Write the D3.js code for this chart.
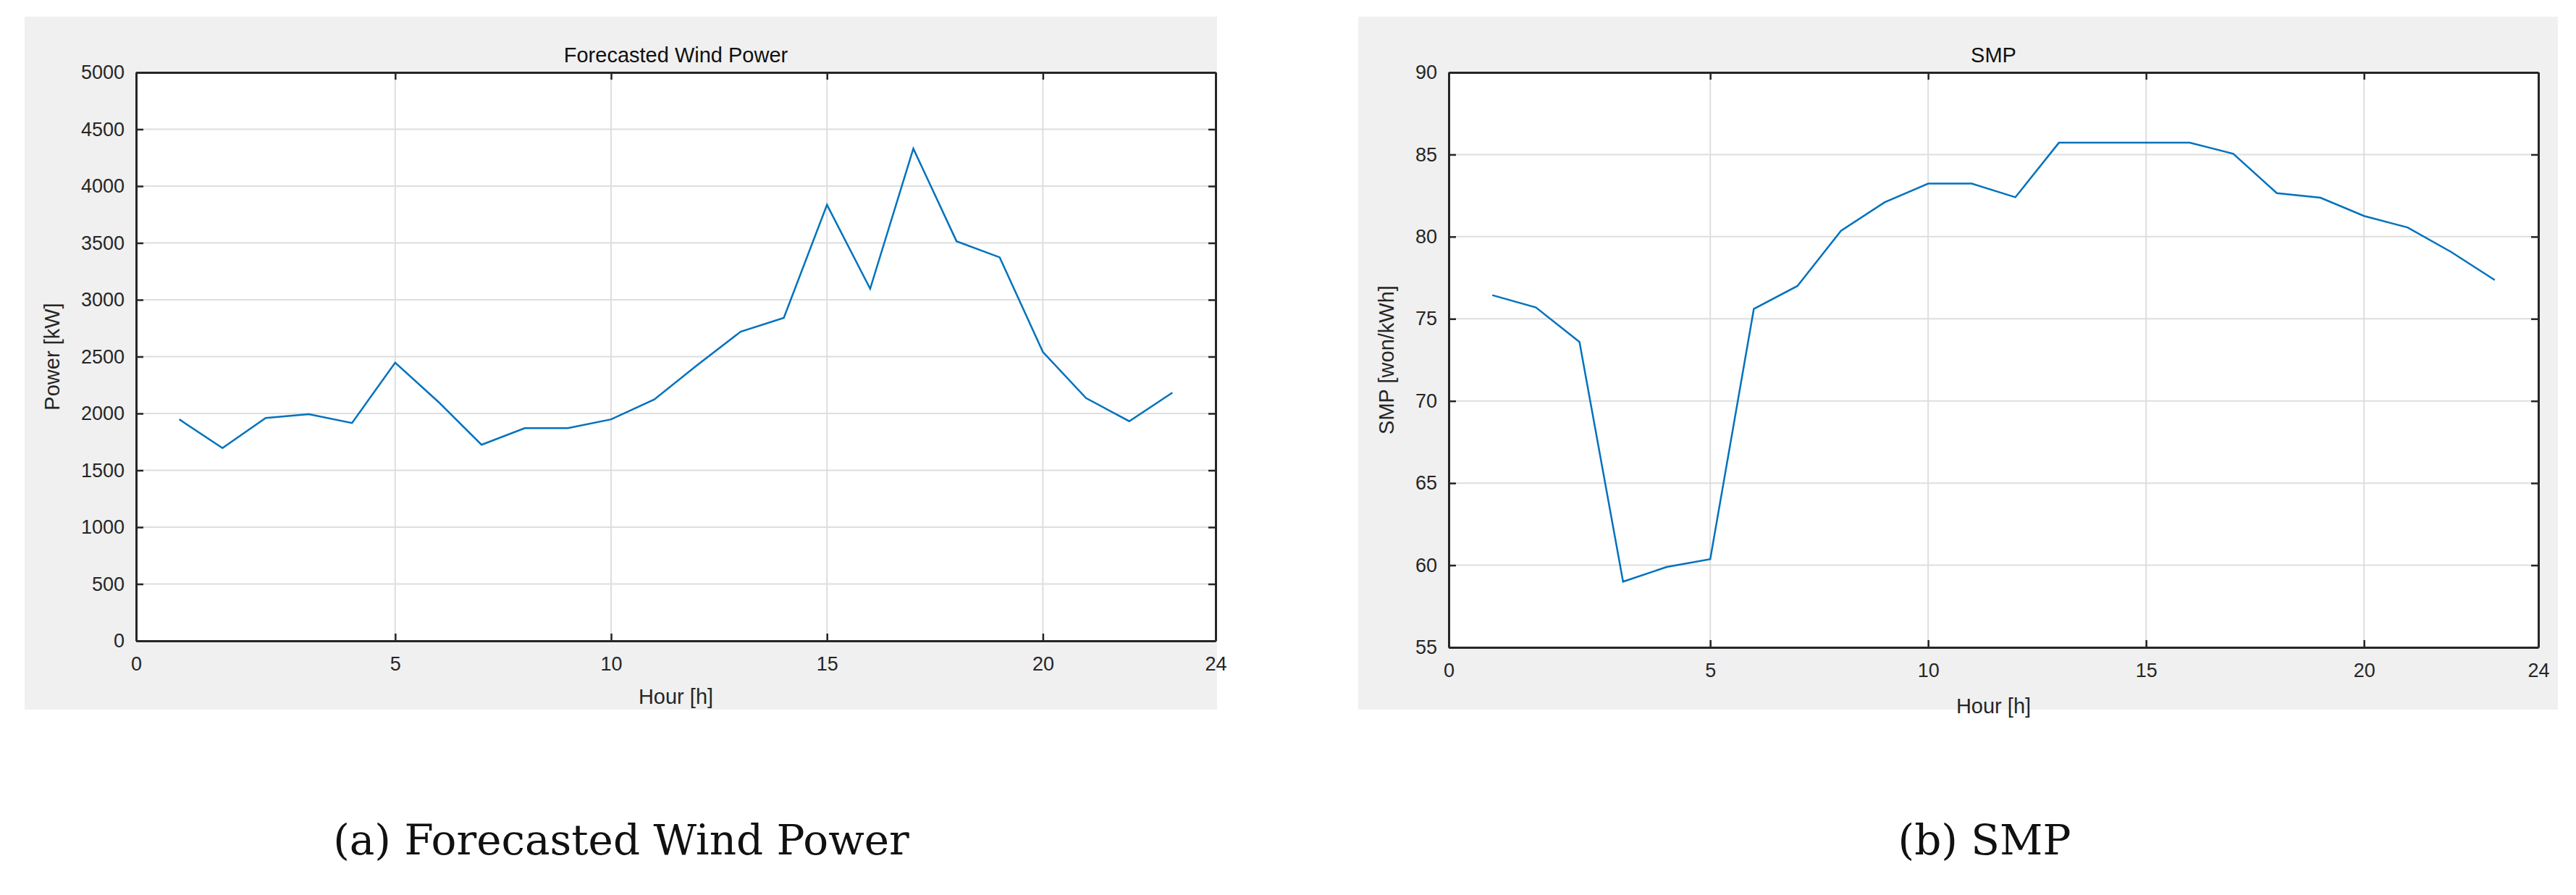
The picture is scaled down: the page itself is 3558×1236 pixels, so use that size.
<!DOCTYPE html>
<html>
<head>
<meta charset="utf-8">
<script src="https://cdn.jsdelivr.net/npm/d3@7"></script>
<style>
  body { margin: 0; background: #fff; }
</style>
</head>
<body>
<svg id="chart" width="3558" height="1236" font-family="Liberation Sans, Arial, sans-serif"></svg>
<script>
// hour index of each sample
const hours = [0, 1, 2, 3, 4, 5, 6, 7, 8, 9, 10, 11, 12, 13, 14, 15, 16, 17, 18, 19, 20, 21, 22, 23];
const windPower = [1948, 1696, 1960, 1993, 1916, 2447, 2102, 1725, 1871, 1871, 1948, 2123,
  2427, 2719, 2841, 3835, 3097, 4330, 3515, 3373, 2541, 2135, 1932, 2183];
const smp = [76.44, 75.69, 73.59, 59.0, 59.89, 60.37, 75.6, 77.0, 80.36, 82.09, 83.23, 83.23,
  82.4, 85.72, 85.72, 85.72, 85.72, 85.05, 82.65, 82.37, 81.26, 80.56, 79.07, 77.36];

// the axis starts one hour before the first sample but is labelled "0"
const xTickValues = [-1, 5, 10, 15, 20, 24];
const xTickLabels = ["0", "5", "10", "15", "20", "24"];
const windTicks = [0, 500, 1000, 1500, 2000, 2500, 3000, 3500, 4000, 4500, 5000];
const smpTicks = [55, 60, 65, 70, 75, 80, 85, 90];

const svg = d3.select("#chart");

function panel(cfg) {
  const g = svg.append("g");

  g.append("rect")
    .attr("x", cfg.bg[0]).attr("y", cfg.bg[1])
    .attr("width", cfg.bg[2]).attr("height", cfg.bg[3])
    .attr("fill", "#f0f0f0");

  const x = d3.scaleLinear().domain([-1, 24]).range([cfg.left, cfg.right]);
  const y = d3.scaleLinear().domain(cfg.yDomain).range([cfg.bottom, cfg.top]);
  const w = cfg.right - cfg.left, h = cfg.bottom - cfg.top;

  g.append("rect")
    .attr("x", cfg.left).attr("y", cfg.top)
    .attr("width", w).attr("height", h)
    .attr("fill", "#fff");

  // grid
  g.append("g").selectAll("line").data(xTickValues.slice(1, -1)).join("line")
    .attr("x1", d => x(d)).attr("x2", d => x(d))
    .attr("y1", cfg.top).attr("y2", cfg.bottom)
    .attr("stroke", "#dedede").attr("stroke-width", 2);
  g.append("g").selectAll("line").data(cfg.yTicks.slice(1, -1)).join("line")
    .attr("x1", cfg.left).attr("x2", cfg.right)
    .attr("y1", d => y(d)).attr("y2", d => y(d))
    .attr("stroke", "#dedede").attr("stroke-width", 2);

  // data line
  g.append("path")
    .datum(hours.map((hr, i) => [hr, cfg.values[i]]))
    .attr("fill", "none")
    .attr("stroke", "#0072BD")
    .attr("stroke-width", 2.5)
    .attr("d", d3.line().x(d => x(d[0])).y(d => y(d[1])));

  // axes with inward ticks, MATLAB style
  const xAxis = g.append("g").attr("transform", `translate(0,${cfg.bottom})`)
    .call(d3.axisBottom(x).tickValues(xTickValues)
      .tickFormat((d, i) => xTickLabels[i]).tickSizeInner(-10).tickSizeOuter(0).tickPadding(22));
  const yAxis = g.append("g").attr("transform", `translate(${cfg.left},0)`)
    .call(d3.axisLeft(y).tickValues(cfg.yTicks).tickFormat(d3.format("d"))
      .tickSizeInner(-10).tickSizeOuter(0).tickPadding(16));
  g.append("g").attr("transform", `translate(0,${cfg.top})`)
    .call(d3.axisTop(x).tickValues(xTickValues).tickFormat("").tickSizeInner(-10).tickSizeOuter(0));
  g.append("g").attr("transform", `translate(${cfg.right},0)`)
    .call(d3.axisRight(y).tickValues(cfg.yTicks).tickFormat("").tickSizeInner(-10).tickSizeOuter(0));

  g.selectAll(".domain").attr("stroke", "#262626").attr("stroke-width", 3);
  g.selectAll(".tick line").attr("stroke", "#262626").attr("stroke-width", 2.5);
  [xAxis, yAxis].forEach(a => a.selectAll("text")
    .attr("font-size", 27).attr("fill", "#262626")
    .attr("font-family", "Liberation Sans, Arial, sans-serif"));

  g.append("text")
    .attr("x", (cfg.left + cfg.right) / 2).attr("y", cfg.top - 14)
    .attr("text-anchor", "middle").attr("font-size", 29).attr("fill", "#111")
    .text(cfg.title);
  g.append("text")
    .attr("x", (cfg.left + cfg.right) / 2).attr("y", cfg.xLabelY)
    .attr("text-anchor", "middle").attr("font-size", 29).attr("fill", "#262626")
    .text("Hour [h]");
  g.append("text")
    .attr("transform", `translate(${cfg.yLabelX},${(cfg.top + cfg.bottom) / 2}) rotate(-90)`)
    .attr("text-anchor", "middle").attr("font-size", 29).attr("fill", "#262626")
    .text(cfg.yLabel);

  svg.append("text")
    .attr("x", cfg.captionX).attr("y", 1180)
    .attr("text-anchor", "middle")
    .style("font-family", "'DejaVu Serif', 'Liberation Serif', serif")
    .attr("font-size", 58).attr("fill", "#111")
    .text(cfg.caption);
}

panel({
  bg: [34, 23, 1647, 957],
  left: 188, right: 1679, top: 100, bottom: 885,
  yDomain: [0, 5000], yTicks: windTicks, values: windPower,
  title: "Forecasted Wind Power", yLabel: "Power [kW]", yLabelX: 82, xLabelY: 972,
  caption: "(a) Forecasted Wind Power", captionX: 858
});

panel({
  bg: [1876, 23, 1657, 957],
  left: 2001, right: 3506, top: 100, bottom: 894,
  yDomain: [55, 90], yTicks: smpTicks, values: smp,
  title: "SMP", yLabel: "SMP [won/kWh]", yLabelX: 1925, xLabelY: 985,
  caption: "(b) SMP", captionX: 2741
});
</script>
</body>
</html>
